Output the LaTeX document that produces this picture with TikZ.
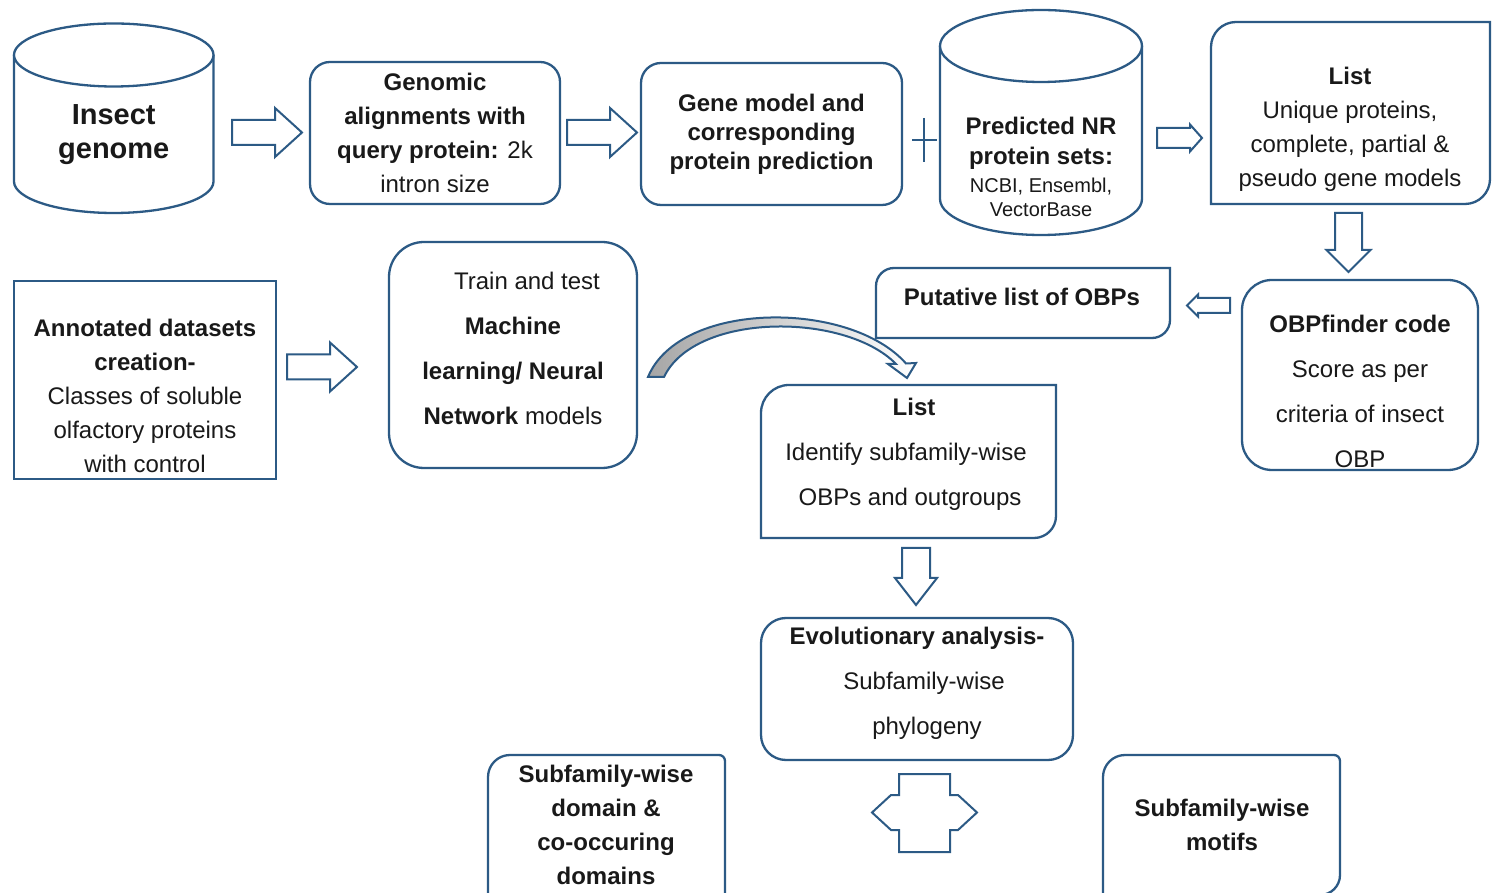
\documentclass[tikz,border=0pt]{standalone}
\usepackage{fontspec}
\setmainfont{Liberation Sans}
\definecolor{edge}{RGB}{44,90,133}
\definecolor{ink}{RGB}{25,25,25}
\tikzset{
  box/.style={draw=edge, line width=2.3pt, fill=white},
  lbl/.style={text=ink, align=center, inner sep=0pt},
  blk/.style={draw=edge, line width=2pt, fill=white, line join=miter},
  blkshade/.style={draw=edge, line width=2pt, line join=miter, left color=black!35, middle color=white, right color=white},
}
\newcommand{\fsz}[2]{\fontsize{#1}{#2}\selectfont}
% right block arrow: x1 x2(tip) yc shaft-half head-half head-length
\newcommand{\myrarrow}[6]{\draw[blk] (#1,{#3+#4}) -- ({#2-#6},{#3+#4}) -- ({#2-#6},{#3+#5}) -- (#2,#3) -- ({#2-#6},{#3-#5}) -- ({#2-#6},{#3-#4}) -- (#1,{#3-#4}) -- cycle;}
% left block arrow: x tip, x tail, yc, shaft-half, head-half, head-length
\newcommand{\mylarrow}[6]{\draw[blk] (#2,{#3+#4}) -- ({#1+#6},{#3+#4}) -- ({#1+#6},{#3+#5}) -- (#1,#3) -- ({#1+#6},{#3-#5}) -- ({#1+#6},{#3-#4}) -- (#2,{#3-#4}) -- cycle;}
% down block arrow: xc, ytop, ytip, shaft-half, head-half, head-length
\newcommand{\mydarrow}[6]{\draw[blk] ({#1-#4},#2) -- ({#1-#4},{#3+#6}) -- ({#1-#5},{#3+#6}) -- (#1,#3) -- ({#1+#5},{#3+#6}) -- ({#1+#4},{#3+#6}) -- ({#1+#4},#2) -- cycle;}
\begin{document}
\begin{tikzpicture}[x=1pt,y=1pt]
\useasboundingbox (0,0) rectangle (1501,892);
\clip (0,0) rectangle (1501,892);
\fill[white] (0,0) rectangle (1501,892);

% ---- cylinder: Insect genome
\draw[box] (14,837) -- (14,710.5) arc[start angle=180, end angle=360, x radius=99.75, y radius=31.5] -- (213.5,837);
\draw[box] (113.75,837) ellipse [x radius=99.75, y radius=31.5];
\node[lbl, font=\fsz{29}{34}\bfseries] (genome) at (113.75,757) {Insect\\genome};

\myrarrow{232}{302}{759.5}{12.5}{24.5}{27}

% ---- Genomic alignments
\node[box, rounded corners=20pt, minimum width=250pt, minimum height=142pt, lbl, font=\fsz{24}{34}] (align) at (435,759)
  {\textbf{Genomic}\\\textbf{alignments with}\\\textbf{query protein:} 2k\\intron size};

\myrarrow{567}{637}{759.5}{12.5}{24.5}{27}

% ---- Gene model
\node[box, rounded corners=20pt, minimum width=261pt, minimum height=142pt, lbl, font=\fsz{24}{29}\bfseries] (gene) at (771.5,758)
  {Gene model and\\corresponding\\protein prediction};

% plus
\draw[edge, line width=1.8pt] (924,774) -- (924,730);
\draw[edge, line width=1.8pt] (912,752) -- (937,752);

% ---- cylinder: NR protein sets
\draw[box] (940,846) -- (940,693) arc[start angle=180, end angle=360, x radius=101, y radius=36] -- (1142,846);
\draw[box] (1041,846) ellipse [x radius=101, y radius=36];
\node[lbl, font=\fsz{24}{30}\bfseries] (nr) at (1041,749) {Predicted NR\\protein sets:};
\node[lbl, font=\fsz{20}{24}] (nrdb) at (1041,695) {NCBI, Ensembl,\\VectorBase};

\myrarrow{1157}{1202}{754}{10}{13.5}{12}

% ---- List (top right)
\draw[box] (1211,688) -- (1211,845) arc[start angle=180, end angle=90, radius=25] -- (1490,870) -- (1490,713) arc[start angle=0, end angle=-90, radius=25] -- cycle;
\node[lbl, font=\fsz{24}{34}] (list1) at (1350,763) {\textbf{List}\\Unique proteins,\\complete, partial \&\\pseudo gene models};

\mydarrow{1348.5}{679}{620}{13.5}{22}{22}

% ---- OBPfinder
\node[box, rounded corners=30pt, minimum width=236pt, minimum height=190pt] (obpf) at (1360,517) {};
\node[lbl, font=\fsz{24}{45}] (obpftxt) at (1360,501) {\textbf{OBPfinder code}\\Score as per\\criteria of insect\\OBP};

\mylarrow{1187}{1230}{586.5}{7.5}{11}{11}

% ---- Putative list
\draw[box] (876,554) -- (876,606) arc[start angle=180, end angle=90, radius=18] -- (1170,624) -- (1170,572) arc[start angle=0, end angle=-90, radius=18] -- cycle;
\node[lbl, font=\fsz{24}{30}\bfseries] (put) at (1022,595) {Putative list of OBPs};

% ---- Annotated datasets
\node[box, minimum width=262pt, minimum height=198pt] (ann) at (145,512) {};
\node[lbl, font=\fsz{24}{34}] (anntxt) at (145,496) {\textbf{Annotated datasets}\\\textbf{creation-}\\Classes of soluble\\olfactory proteins\\with control};

\myrarrow{287}{357}{525}{12.5}{24.5}{27}

% ---- Train and test
\node[box, rounded corners=35pt, minimum width=248pt, minimum height=226pt] (train) at (513,537) {};
\node[lbl, font=\fsz{24}{45}] (traintop) at (527,611) {Train and test};
\node[lbl, font=\fsz{24}{45}] (traintxt) at (513,521) {\textbf{Machine}\\\textbf{learning/ Neural}\\\textbf{Network} models};

% ---- curved arrow
\draw[blkshade] (648,515) .. controls (680,592) and (850,592) .. (906,528.5) -- (916,529) -- (907,514) -- (888,528) -- (896,528) .. controls (845,580) and (695,580) .. (664,515) -- cycle;

% ---- List (middle)
\draw[box] (761,354) -- (761,479) arc[start angle=180, end angle=90, radius=28] -- (1056,507) -- (1056,376) arc[start angle=0, end angle=-90, radius=22] -- cycle;
\node[lbl, font=\fsz{24}{45}] (list2) at (906,438) {\hspace*{16pt}\textbf{List}\\Identify subfamily-wise\\\hspace*{8pt}OBPs and outgroups};

\mydarrow{916}{344}{287}{14}{21}{27}

% ---- Evolutionary analysis
\node[box, rounded corners=25pt, minimum width=312pt, minimum height=142pt] (evo) at (917,203) {};
\node[lbl, font=\fsz{24}{45}] (evotxt) at (917,209) {\textbf{Evolutionary analysis-}\\\hspace*{14pt}Subfamily-wise\\\hspace*{20pt}phylogeny};

% ---- double arrow
\draw[blk] (899,118) -- (950,118) -- (950,97) -- (958,97) -- (977,79.5) -- (958,62) -- (950,62) -- (950,40) -- (899,40) -- (899,62) -- (891,62) -- (872,79.5) -- (891,97) -- (899,97) -- cycle;

% ---- Subfamily-wise domain box
\draw[box] (488,-10) -- (488,115) arc[start angle=180, end angle=90, radius=22] -- (719,137) arc[start angle=90, end angle=0, radius=6] -- (725,-10);
\node[lbl, font=\fsz{24}{34}\bfseries] (dom) at (606,67) {Subfamily-wise\\domain \&\\co-occuring\\domains};

% ---- Subfamily-wise motifs box
\draw[box] (1103,-10) -- (1103,115) arc[start angle=180, end angle=90, radius=22] -- (1334,137) arc[start angle=90, end angle=0, radius=6] -- (1340,17) arc[start angle=0, end angle=-90, radius=20] -- (1300,-3);
\node[lbl, font=\fsz{24}{34}\bfseries] (mot) at (1222,67) {Subfamily-wise\\motifs};
\end{tikzpicture}
\end{document}
